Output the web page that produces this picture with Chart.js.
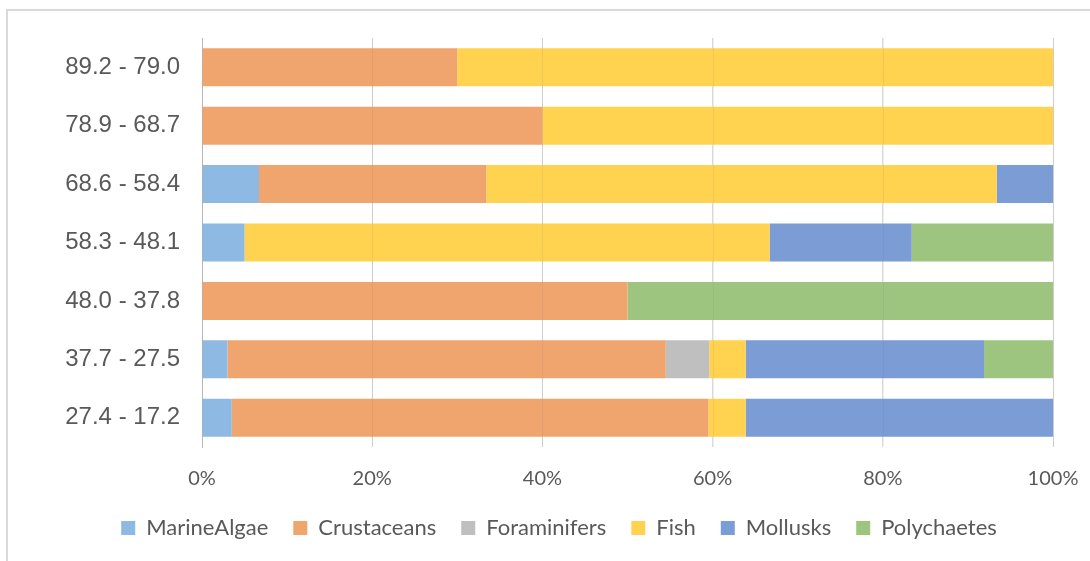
<!DOCTYPE html>
<html>
<head>
<meta charset="utf-8">
<script src="https://cdn.jsdelivr.net/npm/chart.js@4.4.1/dist/chart.umd.min.js"></script>
<style>
  html, body { margin: 0; padding: 0; background: #fff; overflow: hidden; width: 1090px; height: 561px; }
  #frame { position: absolute; left: 6px; top: 9px; width: 1200px; height: 700px; border-left: 2px solid #d9d9d9; border-top: 2px solid #d9d9d9; }
  #wrap { position: absolute; left: 0; top: 0; width: 1090px; height: 549px; }
</style>
</head>
<body>
<div id="frame"></div>
<div id="wrap"><canvas id="c"></canvas></div>
<script>
const categories = ["89.2 - 79.0", "78.9 - 68.7", "68.6 - 58.4", "58.3 - 48.1", "48.0 - 37.8", "37.7 - 27.5", "27.4 - 17.2"];
const marineAlgae  = [0, 0, 6.7, 5.0, 0, 3.0, 3.5];
const crustaceans  = [30, 40, 26.7, 0, 50, 51.5, 56.0];
const foraminifers = [0, 0, 0, 0, 0, 5.1, 0];
const fish         = [70, 60, 60, 61.7, 0, 4.3, 4.4];
const mollusks     = [0, 0, 6.6, 16.7, 0, 28.0, 36.1];
const polychaetes  = [0, 0, 0, 16.6, 50, 8.1, 0];
const xTicks = [0, 20, 40, 60, 80, 100];

const seriesNames = ["MarineAlgae", "Crustaceans", "Foraminifers", "Fish", "Mollusks", "Polychaetes"];
const seriesData = [marineAlgae, crustaceans, foraminifers, fish, mollusks, polychaetes];
const colors = ["#8DB9E2", "#F0A46E", "#BFBFBF", "#FFD34F", "#7B9CD4", "#9DC57F"];

const gridOverlay = {
  id: 'gridOverlay',
  afterDatasetsDraw(chart) {
    const x = chart.scales.x, area = chart.chartArea, ctx = chart.ctx;
    ctx.save();
    ctx.strokeStyle = 'rgba(120,120,120,0.13)';
    ctx.lineWidth = 1;
    xTicks.forEach(v => {
      const px = Math.round(x.getPixelForValue(v)) + 0.5;
      ctx.beginPath();
      ctx.moveTo(px, area.top);
      ctx.lineTo(px, area.bottom);
      ctx.stroke();
    });
    ctx.restore();
  }
};

new Chart(document.getElementById('c'), {
  type: 'bar',
  data: {
    labels: categories,
    datasets: seriesNames.map((n, i) => ({
      label: n,
      data: seriesData[i],
      backgroundColor: colors[i],
      borderWidth: 0,
      categoryPercentage: 1.0,
      barPercentage: 0.65
    }))
  },
  options: {
    indexAxis: 'y',
    responsive: true,
    maintainAspectRatio: false,
    animation: false,
    layout: { padding: { top: 38, right: 37, left: 65, bottom: 0 } },
    plugins: {
      legend: {
        position: 'bottom',
        labels: {
          boxWidth: 14,
          boxHeight: 14,
          padding: 25,
          color: '#595959',
          font: { family: 'Lato', size: 22 }
        }
      },
      tooltip: { enabled: false }
    },
    scales: {
      x: {
        stacked: true,
        min: 0,
        max: 100,
        afterBuildTicks(s) { s.ticks = xTicks.map(v => ({ value: v })); },
        afterFit(s) { s.height = 45; s.paddingLeft = 0; s.paddingRight = 0; },
        ticks: {
          callback: v => v + '%',
          color: '#595959',
          padding: 20,
          font: { family: 'Lato', size: 20 }
        },
        grid: { color: '#d9d9d9', drawTicks: false, lineWidth: 1 },
        border: { display: false }
      },
      y: {
        stacked: true,
        afterFit(s) { s.width = 137; },
        ticks: {
          color: '#595959',
          padding: 22,
          font: { family: 'Liberation Sans', size: 24 }
        },
        grid: { display: false, drawTicks: false },
        border: { display: true, color: '#bfbfbf', width: 1 }
      }
    }
  },
  plugins: [gridOverlay]
});
</script>
</body>
</html>
